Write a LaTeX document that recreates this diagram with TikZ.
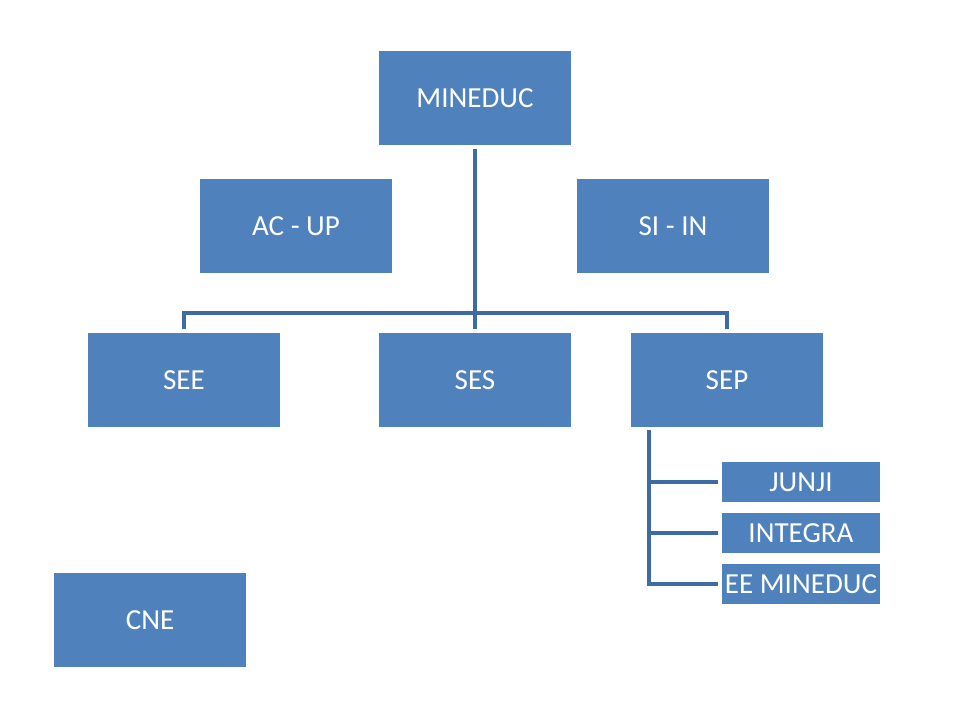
\documentclass[tikz,border=0pt]{standalone}
\usepackage{fontspec}
\setmainfont{Carlito}
\definecolor{boxblue}{HTML}{4F81BD}
\definecolor{lineblue}{HTML}{3D6BA3}
\begin{document}
\begin{tikzpicture}[x=0.75pt,y=-0.75pt,
  bigbox/.style={fill=boxblue,draw=none,text=white,minimum width=144pt,minimum height=70.5pt,inner sep=0pt,font=\fontsize{21.8}{26}\selectfont},
  smallbox/.style={fill=boxblue,draw=none,text=white,minimum width=118.5pt,minimum height=30pt,inner sep=0pt,font=\fontsize{21.8}{26}\selectfont},
  conn/.style={draw=lineblue,line width=2.4pt}]
\fill[white] (0,0) rectangle (960,720);
\useasboundingbox (0,0) rectangle (960,720);
\node[bigbox] (mineduc) at (475,98) {MINEDUC};
\node[bigbox] (acup) at (296,226) {AC - UP};
\node[bigbox] (siin) at (673,226) {SI - IN};
\node[bigbox] (see) at (184,380) {SEE};
\node[bigbox] (ses) at (475,380) {SES};
\node[bigbox] (sep) at (727,380) {SEP};
\node[bigbox] (cne) at (150,620) {CNE};
\node[smallbox] (junji) at (801,482) {JUNJI};
\node[smallbox] (integra) at (801,533) {INTEGRA};
\node[smallbox] (eemin) at (801,584) {EE MINEDUC};
\coordinate (bus) at (475,313);
\coordinate (spinetop) at (649,432);
\coordinate (spinebot) at (649,584);
% tree connectors
\draw[conn] ([yshift=-3pt]mineduc.south) -- ([yshift=3pt]ses.north);
\draw[conn,line cap=rect] (see.north |- bus) -- (sep.north |- bus);
\draw[conn] (see.north |- bus) -- ([yshift=3pt]see.north);
\draw[conn] (sep.north |- bus) -- ([yshift=3pt]sep.north);
% SEP sub-tree
\draw[conn,line cap=rect] (spinetop) -- (spinebot);
\draw[conn] (spinetop |- junji.west) -- ([xshift=-3pt]junji.west);
\draw[conn] (spinetop |- integra.west) -- ([xshift=-3pt]integra.west);
\draw[conn] (spinebot) -- ([xshift=-3pt]eemin.west);
\end{tikzpicture}
\end{document}
